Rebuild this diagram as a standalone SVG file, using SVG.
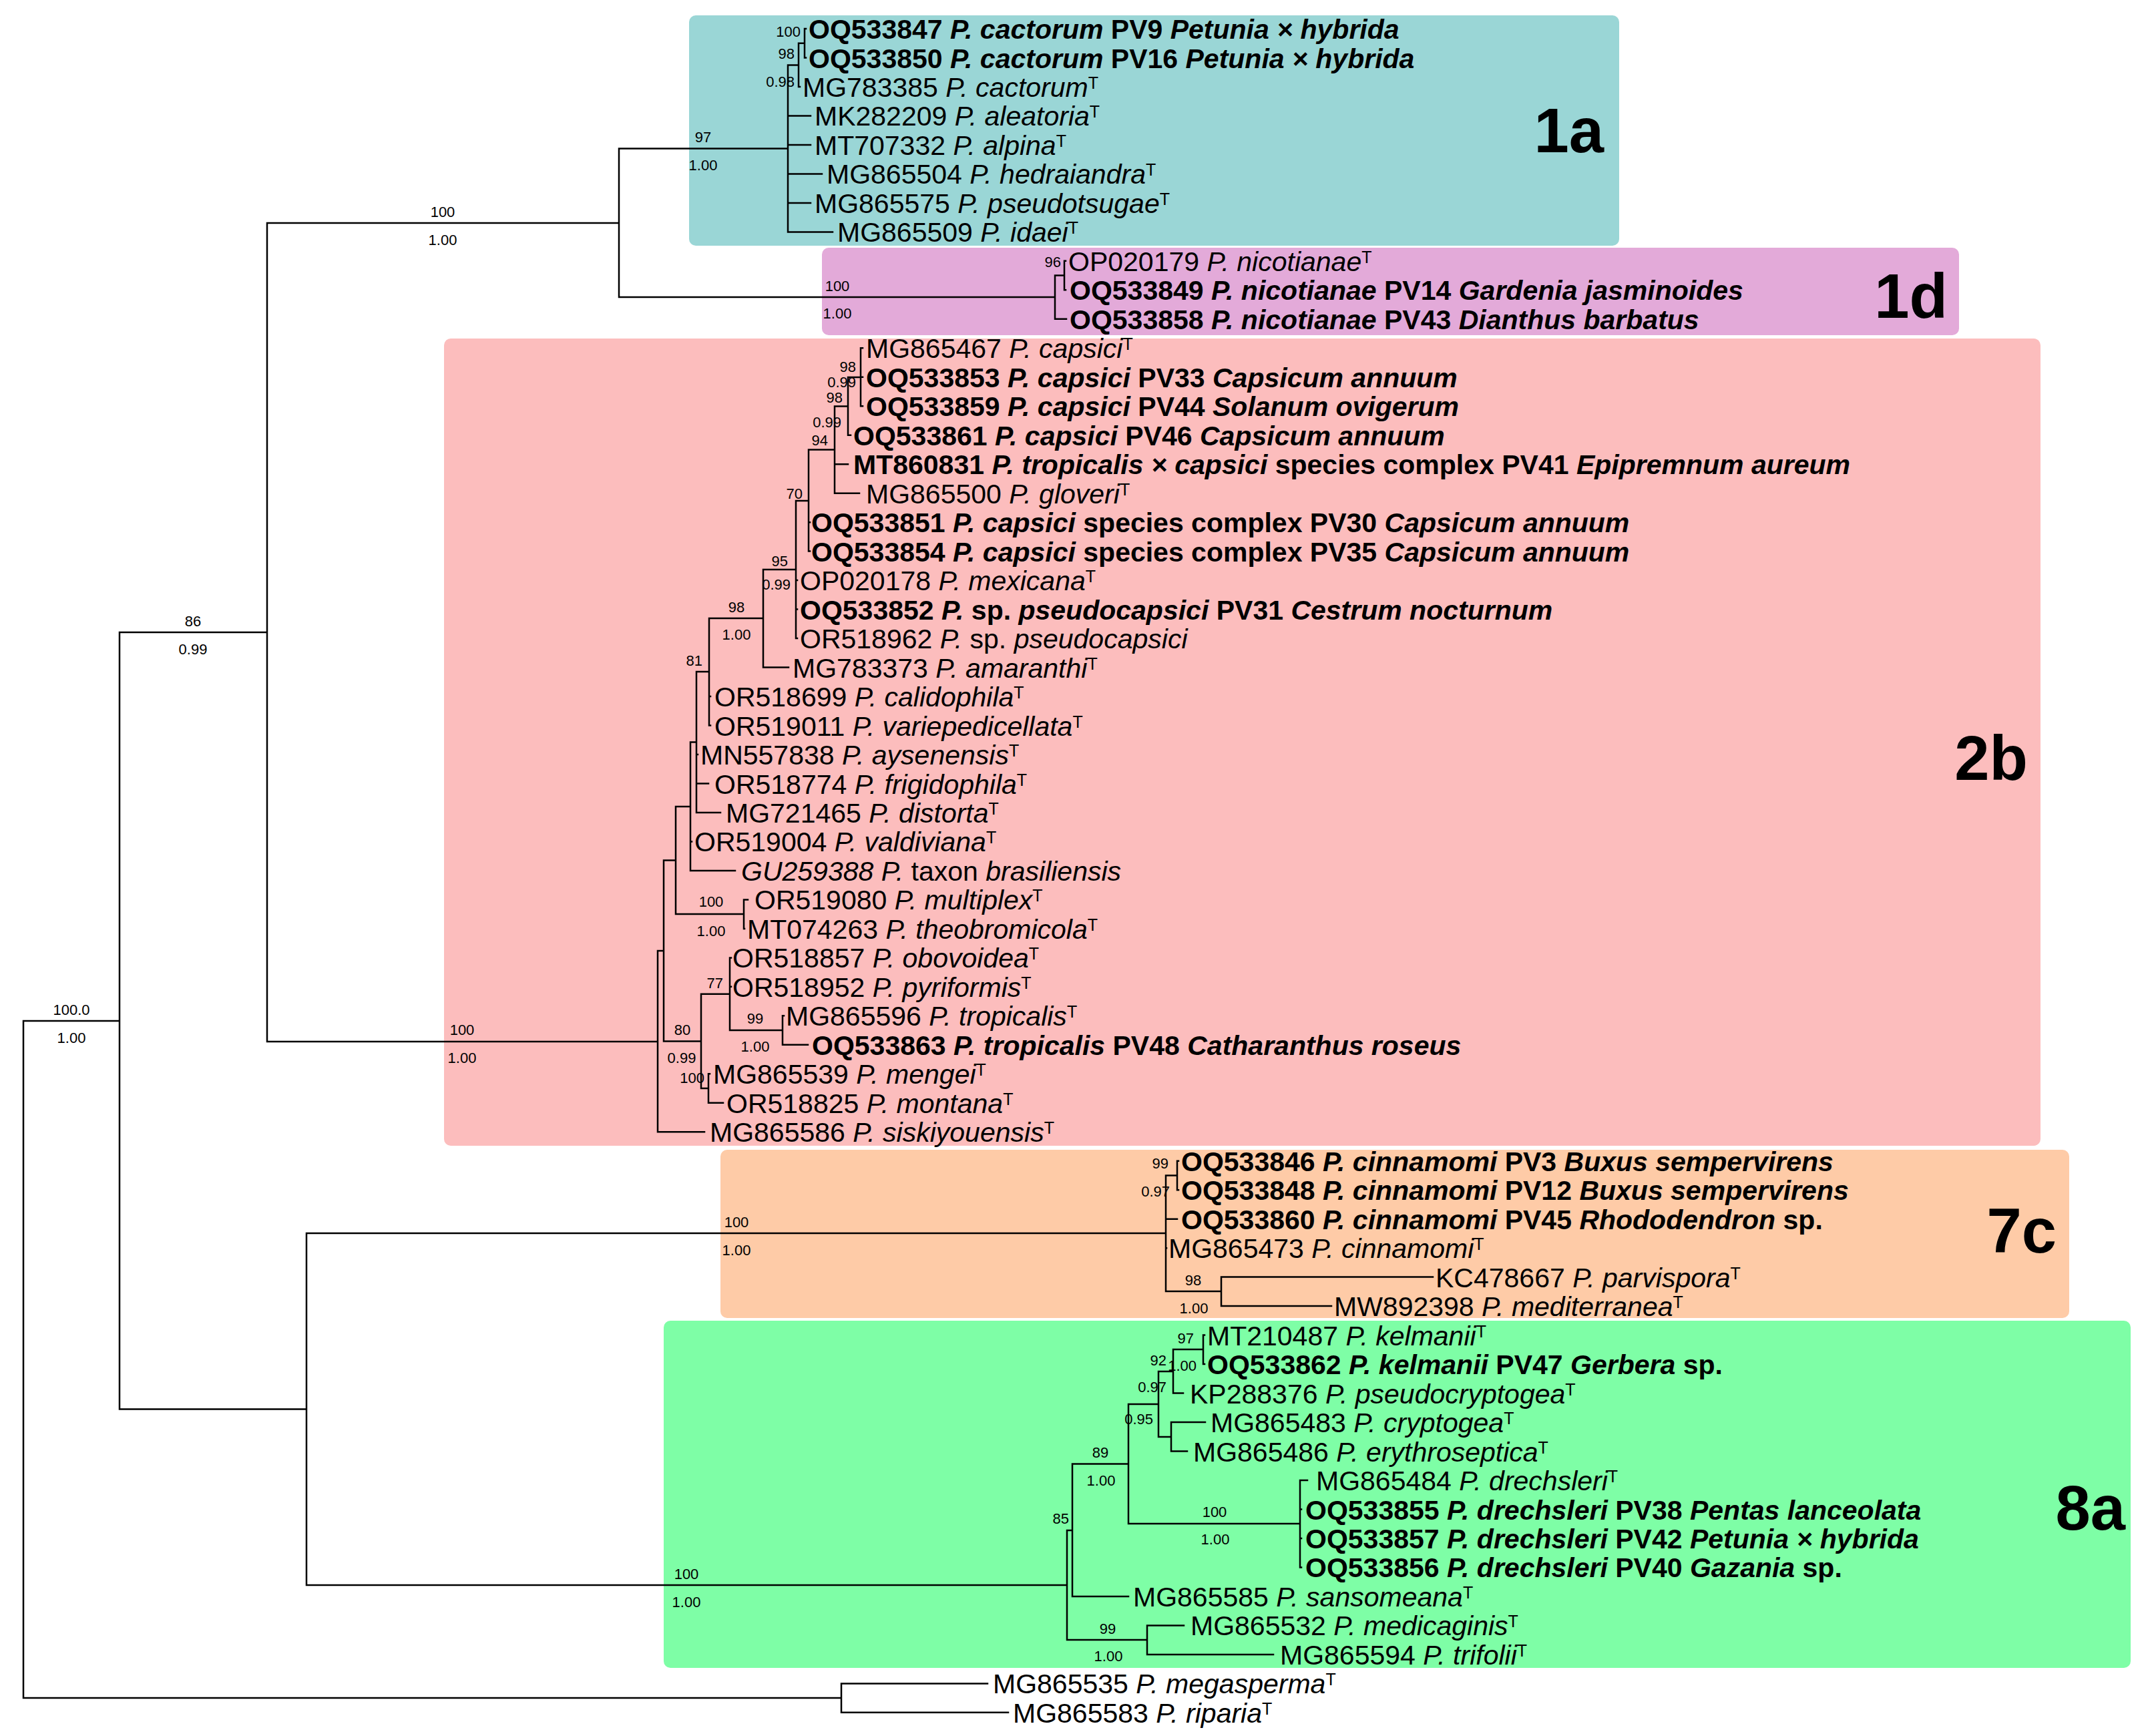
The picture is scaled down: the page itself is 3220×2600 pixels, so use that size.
<svg xmlns="http://www.w3.org/2000/svg" width="3220" height="2600" viewBox="0 0 3220 2600">
<style>
text{font-family:"Liberation Sans",Arial,Helvetica,sans-serif;fill:#000}
.lf{font-size:41px}
.b{font-weight:bold}
.i{font-style:italic}
.s{font-size:25px;font-style:normal}
.sv{font-size:22px}
.mid{text-anchor:middle}
.end{text-anchor:end}
.big{font-size:94px;font-weight:bold;text-anchor:end}
.br{fill:none;stroke:#000;stroke-width:2.5;stroke-linecap:square}
</style>
<rect width="3220" height="2600" fill="#fff"/>
<g id="clades">
<g id="clade-1a"><rect x="1032" y="23" width="1393" height="345" rx="10" fill="#9ad6d6"/><text class="big" x="2402" y="228">1a</text></g>
<g id="clade-1d"><rect x="1231" y="371" width="1703" height="131" rx="10" fill="#e3aad9"/><text class="big" x="2917" y="476">1d</text></g>
<g id="clade-2b"><rect x="665" y="507" width="2391" height="1209" rx="10" fill="#fcbdbd"/><text class="big" x="3037" y="1168">2b</text></g>
<g id="clade-7c"><rect x="1079" y="1722" width="2020" height="252" rx="10" fill="#fecba7"/><text class="big" x="3080" y="1876">7c</text></g>
<g id="clade-8a"><rect x="994" y="1978" width="2197" height="520" rx="10" fill="#7efea6"/><text class="big" x="3183" y="2291">8a</text></g>
</g>
<g id="connectors">
<path class="br" d="
M35,1529V2543 M35,1529H179 M35,2543H1260
M179,947V2110.5 M179,947H400 M179,2110.5H459
M400,334V1560 M400,334H927 M400,1560H985
M927,222.5V445 M927,222.5H1180 M927,445H1580
M1180,97.5V347.4 M1180,97.5H1196 M1180,173.4H1214 M1180,216.9H1214 M1180,260.4H1231 M1180,303.9H1214 M1180,347.4H1247
M1196,64.8V130 M1196,64.8H1205 M1196,130H1198
M1205,43V86.5 M1205,43H1207 M1205,86.5H1207
M1580,412.5V477.8 M1580,412.5H1594 M1580,477.8H1597
M1594,390.8V434.3 M1594,390.8H1596 M1594,434.3H1596
M985,1424V1695.2 M985,1424H994 M985,1695.2H1055
M994,1288.5V1559.5 M994,1288.5H1012 M994,1559.5H1050
M1012,1208V1369 M1012,1208H1034 M1012,1369H1114
M1114,1347.4V1390.9 M1114,1347.4H1120 M1114,1390.9H1115
M1034,1111.5V1303.9 M1034,1111.5H1043 M1034,1260.4H1036 M1034,1303.9H1101
M1043,1006V1217 M1043,1006H1062 M1043,1130H1045 M1043,1173.5H1061 M1043,1217H1079
M1062,926V1086.5 M1062,926H1143 M1062,1043H1064 M1062,1086.5H1064
M1143,853V999.6 M1143,853H1192 M1143,999.6H1181
M1192,750V956.1 M1192,750H1211 M1192,869.1H1194 M1192,912.6H1194 M1192,956.1H1194
M1211,673.6V825.6 M1211,673.6H1250 M1211,782.2H1213 M1211,825.6H1213
M1250,608.4V738.7 M1250,608.4H1270 M1250,695.2H1270 M1250,738.7H1287
M1270,565V651.7 M1270,565H1289 M1270,651.7H1274
M1289,521.3V608.2 M1289,521.3H1292 M1289,564.8H1292 M1289,608.2H1292
M1050,1488.7V1630 M1050,1488.7H1093 M1050,1630H1061
M1093,1434.4V1543 M1093,1434.4H1095 M1093,1477.8H1095 M1093,1543H1172
M1172,1521.3V1564.8 M1172,1521.3H1174 M1172,1564.8H1210
M1061,1608.3V1651.8 M1061,1608.3H1063 M1061,1651.8H1083
M459,1847V2374 M459,1847H1746 M459,2374H1598
M1746,1760.5V1934 M1746,1760.5H1763 M1746,1825.7H1763 M1746,1869.2H1747 M1746,1934H1829
M1763,1738.7V1782.2 M1763,1738.7H1765 M1763,1782.2H1765
M1829,1912.6V1956.1 M1829,1912.6H2146 M1829,1956.1H1994
M1598,2292V2456 M1598,2292H1606 M1598,2456H1718
M1606,2192.5V2390.9 M1606,2192.5H1690 M1606,2390.9H1690
M1690,2103V2282 M1690,2103H1735 M1690,2282H1947
M1735,2054V2152 M1735,2054H1757 M1735,2152H1754
M1757,2021V2086.6 M1757,2021H1802 M1757,2086.6H1772
M1802,1999.6V2043.1 M1802,1999.6H1804 M1802,2043.1H1804
M1754,2130V2173.5 M1754,2130H1805 M1754,2173.5H1778
M1947,2217V2347.4 M1947,2217H1958 M1947,2260.5H1949 M1947,2304H1949 M1947,2347.4H1949
M1718,2434.4V2477.9 M1718,2434.4H1773 M1718,2477.9H1907
M1260,2521.4V2564.8 M1260,2521.4H1479 M1260,2564.8H1510
"/>
</g>
<g id="support">
<text class="sv mid" x="107" y="1520">100.0</text><text class="sv mid" x="107" y="1562">1.00</text>
<text class="sv mid" x="289" y="938">86</text><text class="sv mid" x="289" y="980">0.99</text>
<text class="sv mid" x="663" y="325">100</text><text class="sv mid" x="663" y="367">1.00</text>
<text class="sv mid" x="692" y="1550">100</text><text class="sv mid" x="692" y="1592">1.00</text>
<text class="sv mid" x="1053" y="213">97</text><text class="sv mid" x="1053" y="255">1.00</text>
<text class="sv mid" x="1254" y="436">100</text><text class="sv mid" x="1254" y="477">1.00</text>
<text class="sv mid" x="1103" y="1838">100</text><text class="sv mid" x="1103" y="1880">1.00</text>
<text class="sv mid" x="1028" y="2365">100</text><text class="sv mid" x="1028" y="2407">1.00</text>
<text class="sv mid" x="1103" y="917">98</text><text class="sv mid" x="1103" y="958">1.00</text>
<text class="sv mid" x="1065" y="1358">100</text><text class="sv mid" x="1065" y="1402">1.00</text>
<text class="sv mid" x="1131" y="1533">99</text><text class="sv mid" x="1131" y="1575">1.00</text>
<text class="sv mid" x="1022" y="1550">80</text><text class="sv mid" x="1021" y="1592">0.99</text>
<text class="sv mid" x="1787" y="1925">98</text><text class="sv mid" x="1788" y="1967">1.00</text>
<text class="sv mid" x="1648" y="2183">89</text><text class="sv mid" x="1649" y="2225">1.00</text>
<text class="sv mid" x="1819" y="2272">100</text><text class="sv mid" x="1820" y="2313">1.00</text>
<text class="sv mid" x="1659" y="2447">99</text><text class="sv mid" x="1660" y="2488">1.00</text>
<text class="sv end" x="1199" y="55">100</text>
<text class="sv end" x="1190" y="88">98</text><text class="sv end" x="1190" y="130">0.98</text>
<text class="sv end" x="1589" y="400">96</text>
<text class="sv end" x="1282" y="557">98</text><text class="sv end" x="1282" y="580">0.99</text>
<text class="sv end" x="1262" y="603">98</text><text class="sv end" x="1260" y="640">0.99</text>
<text class="sv end" x="1240" y="667">94</text>
<text class="sv end" x="1202" y="747">70</text>
<text class="sv end" x="1180" y="848">95</text><text class="sv end" x="1184" y="883">0.99</text>
<text class="sv end" x="1052" y="997">81</text>
<text class="sv end" x="1083" y="1480">77</text>
<text class="sv end" x="1055" y="1622">100</text>
<text class="sv end" x="1601" y="2282">85</text>
<text class="sv end" x="1750" y="1750">99</text><text class="sv end" x="1752" y="1792">0.97</text>
<text class="sv end" x="1788" y="2012">97</text><text class="sv end" x="1792" y="2053">1.00</text>
<text class="sv end" x="1747" y="2045">92</text><text class="sv end" x="1747" y="2085">0.97</text>
<text class="sv end" x="1727" y="2133">0.95</text>
</g>
<g id="leaves">
<g id="leaf-OQ533847"><text class="lf b" x="1211" y="58">OQ533847 <tspan class="i">P. cactorum</tspan> PV9 <tspan class="i">Petunia × hybrida</tspan></text></g>
<g id="leaf-OQ533850"><text class="lf b" x="1211" y="101.5">OQ533850 <tspan class="i">P. cactorum</tspan> PV16 <tspan class="i">Petunia × hybrida</tspan></text></g>
<g id="leaf-MG783385"><text class="lf" x="1202" y="145">MG783385 <tspan class="i">P. cactorum</tspan><tspan class="s" dy="-12">T</tspan></text></g>
<g id="leaf-MK282209"><text class="lf" x="1220" y="188.4">MK282209 <tspan class="i">P. aleatoria</tspan><tspan class="s" dy="-12">T</tspan></text></g>
<g id="leaf-MT707332"><text class="lf" x="1220" y="231.9">MT707332 <tspan class="i">P. alpina</tspan><tspan class="s" dy="-12">T</tspan></text></g>
<g id="leaf-MG865504"><text class="lf" x="1238" y="275.4">MG865504 <tspan class="i">P. hedraiandra</tspan><tspan class="s" dy="-12">T</tspan></text></g>
<g id="leaf-MG865575"><text class="lf" x="1220" y="318.9">MG865575 <tspan class="i">P. pseudotsugae</tspan><tspan class="s" dy="-12">T</tspan></text></g>
<g id="leaf-MG865509"><text class="lf" x="1254" y="362.4">MG865509 <tspan class="i">P. idaei</tspan><tspan class="s" dy="-12">T</tspan></text></g>
<g id="leaf-OP020179"><text class="lf" x="1600" y="405.8">OP020179 <tspan class="i">P. nicotianae</tspan><tspan class="s" dy="-12">T</tspan></text></g>
<g id="leaf-OQ533849"><text class="lf b" x="1602" y="449.3">OQ533849 <tspan class="i">P. nicotianae</tspan> PV14 <tspan class="i">Gardenia jasminoides</tspan></text></g>
<g id="leaf-OQ533858"><text class="lf b" x="1602" y="492.8">OQ533858 <tspan class="i">P. nicotianae</tspan> PV43 <tspan class="i">Dianthus barbatus</tspan></text></g>
<g id="leaf-MG865467"><text class="lf" x="1297" y="536.3">MG865467 <tspan class="i">P. capsici</tspan><tspan class="s" dy="-12">T</tspan></text></g>
<g id="leaf-OQ533853"><text class="lf b" x="1297" y="579.8">OQ533853 <tspan class="i">P. capsici</tspan> PV33 <tspan class="i">Capsicum annuum</tspan></text></g>
<g id="leaf-OQ533859"><text class="lf b" x="1297" y="623.2">OQ533859 <tspan class="i">P. capsici</tspan> PV44 <tspan class="i">Solanum ovigerum</tspan></text></g>
<g id="leaf-OQ533861"><text class="lf b" x="1278" y="666.7">OQ533861 <tspan class="i">P. capsici</tspan> PV46 <tspan class="i">Capsicum annuum</tspan></text></g>
<g id="leaf-MT860831"><text class="lf b" x="1278" y="710.2">MT860831 <tspan class="i">P. tropicalis × capsici</tspan> species complex PV41 <tspan class="i">Epipremnum aureum</tspan></text></g>
<g id="leaf-MG865500"><text class="lf" x="1297" y="753.7">MG865500 <tspan class="i">P. gloveri</tspan><tspan class="s" dy="-12">T</tspan></text></g>
<g id="leaf-OQ533851"><text class="lf b" x="1215" y="797.2">OQ533851 <tspan class="i">P. capsici</tspan> species complex PV30 <tspan class="i">Capsicum annuum</tspan></text></g>
<g id="leaf-OQ533854"><text class="lf b" x="1215" y="840.6">OQ533854 <tspan class="i">P. capsici</tspan> species complex PV35 <tspan class="i">Capsicum annuum</tspan></text></g>
<g id="leaf-OP020178"><text class="lf" x="1198" y="884.1">OP020178 <tspan class="i">P. mexicana</tspan><tspan class="s" dy="-12">T</tspan></text></g>
<g id="leaf-OQ533852"><text class="lf b" x="1198" y="927.6">OQ533852 <tspan class="i">P.</tspan> sp. <tspan class="i">pseudocapsici</tspan> PV31 <tspan class="i">Cestrum nocturnum</tspan></text></g>
<g id="leaf-OR518962"><text class="lf" x="1198" y="971.1">OR518962 <tspan class="i">P.</tspan> sp. <tspan class="i">pseudocapsici</tspan></text></g>
<g id="leaf-MG783373"><text class="lf" x="1187" y="1014.6">MG783373 <tspan class="i">P. amaranthi</tspan><tspan class="s" dy="-12">T</tspan></text></g>
<g id="leaf-OR518699"><text class="lf" x="1070" y="1058">OR518699 <tspan class="i">P. calidophila</tspan><tspan class="s" dy="-12">T</tspan></text></g>
<g id="leaf-OR519011"><text class="lf" x="1070" y="1101.5">OR519011 <tspan class="i">P. variepedicellata</tspan><tspan class="s" dy="-12">T</tspan></text></g>
<g id="leaf-MN557838"><text class="lf" x="1049" y="1145">MN557838 <tspan class="i">P. aysenensis</tspan><tspan class="s" dy="-12">T</tspan></text></g>
<g id="leaf-OR518774"><text class="lf" x="1070" y="1188.5">OR518774 <tspan class="i">P. frigidophila</tspan><tspan class="s" dy="-12">T</tspan></text></g>
<g id="leaf-MG721465"><text class="lf" x="1087" y="1232">MG721465 <tspan class="i">P. distorta</tspan><tspan class="s" dy="-12">T</tspan></text></g>
<g id="leaf-OR519004"><text class="lf" x="1040" y="1275.4">OR519004 <tspan class="i">P. valdiviana</tspan><tspan class="s" dy="-12">T</tspan></text></g>
<g id="leaf-GU259388"><text class="lf" x="1110" y="1318.9"><tspan class="i">GU259388 P.</tspan> taxon <tspan class="i">brasiliensis</tspan></text></g>
<g id="leaf-OR519080"><text class="lf" x="1130" y="1362.4">OR519080 <tspan class="i">P. multiplex</tspan><tspan class="s" dy="-12">T</tspan></text></g>
<g id="leaf-MT074263"><text class="lf" x="1119" y="1405.9">MT074263 <tspan class="i">P. theobromicola</tspan><tspan class="s" dy="-12">T</tspan></text></g>
<g id="leaf-OR518857"><text class="lf" x="1097" y="1449.4">OR518857 <tspan class="i">P. obovoidea</tspan><tspan class="s" dy="-12">T</tspan></text></g>
<g id="leaf-OR518952"><text class="lf" x="1097" y="1492.8">OR518952 <tspan class="i">P. pyriformis</tspan><tspan class="s" dy="-12">T</tspan></text></g>
<g id="leaf-MG865596"><text class="lf" x="1177" y="1536.3">MG865596 <tspan class="i">P. tropicalis</tspan><tspan class="s" dy="-12">T</tspan></text></g>
<g id="leaf-OQ533863"><text class="lf b" x="1216" y="1579.8">OQ533863 <tspan class="i">P. tropicalis</tspan> PV48 <tspan class="i">Catharanthus roseus</tspan></text></g>
<g id="leaf-MG865539"><text class="lf" x="1068" y="1623.3">MG865539 <tspan class="i">P. mengei</tspan><tspan class="s" dy="-12">T</tspan></text></g>
<g id="leaf-OR518825"><text class="lf" x="1088" y="1666.8">OR518825 <tspan class="i">P. montana</tspan><tspan class="s" dy="-12">T</tspan></text></g>
<g id="leaf-MG865586"><text class="lf" x="1063" y="1710.2">MG865586 <tspan class="i">P. siskiyouensis</tspan><tspan class="s" dy="-12">T</tspan></text></g>
<g id="leaf-OQ533846"><text class="lf b" x="1769" y="1753.7">OQ533846 <tspan class="i">P. cinnamomi</tspan> PV3 <tspan class="i">Buxus sempervirens</tspan></text></g>
<g id="leaf-OQ533848"><text class="lf b" x="1769" y="1797.2">OQ533848 <tspan class="i">P. cinnamomi</tspan> PV12 <tspan class="i">Buxus sempervirens</tspan></text></g>
<g id="leaf-OQ533860"><text class="lf b" x="1769" y="1840.7">OQ533860 <tspan class="i">P. cinnamomi</tspan> PV45 <tspan class="i">Rhododendron</tspan> sp.</text></g>
<g id="leaf-MG865473"><text class="lf" x="1750" y="1884.2">MG865473 <tspan class="i">P. cinnamomi</tspan><tspan class="s" dy="-12">T</tspan></text></g>
<g id="leaf-KC478667"><text class="lf" x="2150" y="1927.6">KC478667 <tspan class="i">P. parvispora</tspan><tspan class="s" dy="-12">T</tspan></text></g>
<g id="leaf-MW892398"><text class="lf" x="1998" y="1971.1">MW892398 <tspan class="i">P. mediterranea</tspan><tspan class="s" dy="-12">T</tspan></text></g>
<g id="leaf-MT210487"><text class="lf" x="1808" y="2014.6">MT210487 <tspan class="i">P. kelmanii</tspan><tspan class="s" dy="-12">T</tspan></text></g>
<g id="leaf-OQ533862"><text class="lf b" x="1808" y="2058.1">OQ533862 <tspan class="i">P. kelmanii</tspan> PV47 <tspan class="i">Gerbera</tspan> sp.</text></g>
<g id="leaf-KP288376"><text class="lf" x="1782" y="2101.6">KP288376 <tspan class="i">P. pseudocryptogea</tspan><tspan class="s" dy="-12">T</tspan></text></g>
<g id="leaf-MG865483"><text class="lf" x="1813" y="2145">MG865483 <tspan class="i">P. cryptogea</tspan><tspan class="s" dy="-12">T</tspan></text></g>
<g id="leaf-MG865486"><text class="lf" x="1787" y="2188.5">MG865486 <tspan class="i">P. erythroseptica</tspan><tspan class="s" dy="-12">T</tspan></text></g>
<g id="leaf-MG865484"><text class="lf" x="1971" y="2232">MG865484 <tspan class="i">P. drechsleri</tspan><tspan class="s" dy="-12">T</tspan></text></g>
<g id="leaf-OQ533855"><text class="lf b" x="1955" y="2275.5">OQ533855 <tspan class="i">P. drechsleri</tspan> PV38 <tspan class="i">Pentas lanceolata</tspan></text></g>
<g id="leaf-OQ533857"><text class="lf b" x="1955" y="2319">OQ533857 <tspan class="i">P. drechsleri</tspan> PV42 <tspan class="i">Petunia × hybrida</tspan></text></g>
<g id="leaf-OQ533856"><text class="lf b" x="1955" y="2362.4">OQ533856 <tspan class="i">P. drechsleri</tspan> PV40 <tspan class="i">Gazania</tspan> sp.</text></g>
<g id="leaf-MG865585"><text class="lf" x="1697" y="2405.9">MG865585 <tspan class="i">P. sansomeana</tspan><tspan class="s" dy="-12">T</tspan></text></g>
<g id="leaf-MG865532"><text class="lf" x="1783" y="2449.4">MG865532 <tspan class="i">P. medicaginis</tspan><tspan class="s" dy="-12">T</tspan></text></g>
<g id="leaf-MG865594"><text class="lf" x="1917" y="2492.9">MG865594 <tspan class="i">P. trifolii</tspan><tspan class="s" dy="-12">T</tspan></text></g>
<g id="leaf-MG865535"><text class="lf" x="1487" y="2536.4">MG865535 <tspan class="i">P. megasperma</tspan><tspan class="s" dy="-12">T</tspan></text></g>
<g id="leaf-MG865583"><text class="lf" x="1517" y="2579.8">MG865583 <tspan class="i">P. riparia</tspan><tspan class="s" dy="-12">T</tspan></text></g>
</g>
</svg>
